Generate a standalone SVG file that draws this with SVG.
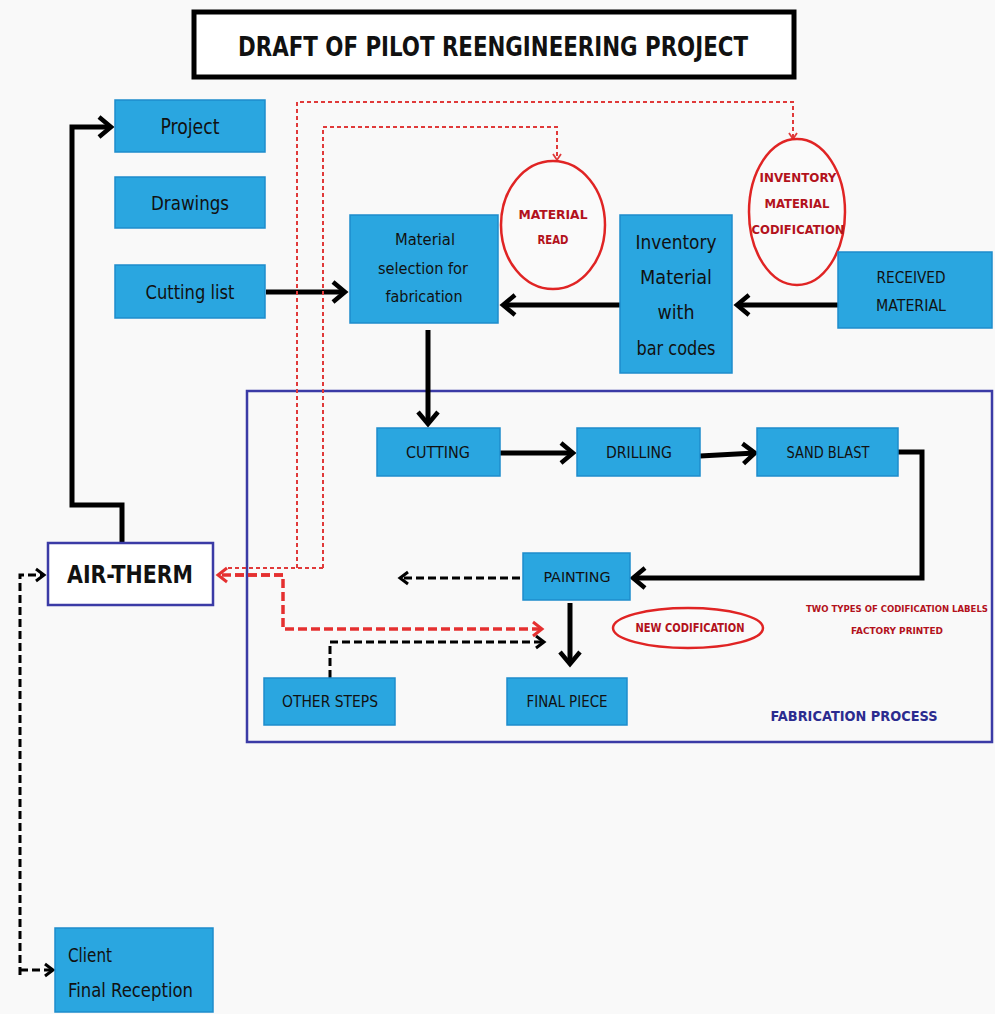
<svg xmlns="http://www.w3.org/2000/svg" width="995" height="1014" viewBox="0 0 995 1014">
<style>
.bx{fill:#2aa6e0;stroke:#1e8ccc;stroke-width:1.5}
.t{font-family:"DejaVu Sans","Liberation Sans",sans-serif;font-stretch:condensed;fill:#111;text-anchor:middle}
.r{font-family:"DejaVu Sans","Liberation Sans",sans-serif;font-stretch:condensed;fill:#b3121c;font-weight:bold;text-anchor:middle}
.ell{fill:#fafafa;stroke:#e02424;stroke-width:2.5}
.solid{fill:none;stroke:#000;stroke-width:5}
.dash{fill:none;stroke:#000;stroke-width:3;stroke-dasharray:8 4}
.rdot{fill:none;stroke:#e03a3a;stroke-width:2;stroke-dasharray:4 3}
.rdash{fill:none;stroke:#e53030;stroke-width:3.5;stroke-dasharray:9 4}
</style>
<defs>
<marker id="ab" markerUnits="userSpaceOnUse" markerWidth="24" markerHeight="24" refX="16" refY="12" orient="auto" overflow="visible"><path d="M4,2 L16,12 L4,22" fill="none" stroke="#000" stroke-width="4.5"/></marker>
<marker id="as" markerUnits="userSpaceOnUse" markerWidth="16" markerHeight="16" refX="12" refY="8" orient="auto" overflow="visible"><path d="M4,2 L12,8 L4,14" fill="none" stroke="#000" stroke-width="3"/></marker>
<marker id="ar" markerUnits="userSpaceOnUse" markerWidth="16" markerHeight="16" refX="12" refY="8" orient="auto" overflow="visible"><path d="M3,1 L12,8 L3,15" fill="none" stroke="#e53030" stroke-width="3"/></marker>
<marker id="ars" markerUnits="userSpaceOnUse" markerWidth="12" markerHeight="12" refX="9" refY="6" orient="auto" overflow="visible"><path d="M3,2 L9,6 L3,10" fill="none" stroke="#e03a3a" stroke-width="1.8"/></marker>
</defs>
<rect width="995" height="1014" fill="#f9f9f9"/>

<g id="title">
<rect x="194" y="12" width="600" height="65" fill="#fff" stroke="#000" stroke-width="5"/>
<text class="t" x="493" y="56" font-size="27" font-weight="bold" textLength="510" lengthAdjust="spacingAndGlyphs">DRAFT OF PILOT REENGINEERING PROJECT</text>
</g>

<g id="fabrication-process">
<rect x="247" y="391" width="745" height="351" fill="none" stroke="#3b3ba6" stroke-width="2.5"/>
<text x="854" y="721" font-family="DejaVu Sans,Liberation Sans,sans-serif" font-size="14" font-weight="bold" fill="#2b2b8f" text-anchor="middle" textLength="167" lengthAdjust="spacingAndGlyphs">FABRICATION PROCESS</text>
</g>

<g id="connectors">
<path class="solid" d="M266,292 H345" marker-end="url(#ab)"/>
<path class="solid" d="M620,305 H503" marker-end="url(#ab)"/>
<path class="solid" d="M838,305 H737" marker-end="url(#ab)"/>
<path class="solid" d="M428,330 V424" marker-end="url(#ab)"/>
<path class="solid" d="M500,453 H573" marker-end="url(#ab)"/>
<path class="solid" d="M700,456 L755,453" marker-end="url(#ab)"/>
<path class="solid" d="M898,452 H922 V578 H633" marker-end="url(#ab)"/>
<path class="solid" d="M570,603 V664" marker-end="url(#ab)"/>
<path class="solid" d="M122,542 V505 H72 V127 H111" marker-end="url(#ab)"/>
<path class="dash" d="M520,578 H400" marker-end="url(#as)"/>
<path class="dash" d="M330,678 V642 H544" marker-end="url(#as)"/>
<path class="dash" d="M20,975 V575 H44" marker-end="url(#as)"/>
<path class="dash" d="M20,970 H53" marker-end="url(#as)"/>
<path class="rdot" d="M323,568 V127 H557 V160" marker-end="url(#ars)"/>
<path class="rdot" d="M297,568 V102 H793 V139" marker-end="url(#ars)"/>
<path class="rdot" d="M323,568 H226"/>
<path class="rdash" d="M283,575 H218" marker-end="url(#ar)"/>
<path class="rdash" d="M235,575 H283 V629 H542" marker-end="url(#ar)"/>
</g>

<g id="project"><rect class="bx" x="115" y="100" width="150" height="52"/><text class="t" x="190" y="134" font-size="21" textLength="59" lengthAdjust="spacingAndGlyphs">Project</text></g>
<g id="drawings"><rect class="bx" x="115" y="177" width="150" height="51"/><text class="t" x="190" y="210" font-size="20" textLength="78" lengthAdjust="spacingAndGlyphs">Drawings</text></g>
<g id="cutting-list"><rect class="bx" x="115" y="265" width="150" height="53"/><text class="t" x="190" y="299" font-size="20" textLength="89" lengthAdjust="spacingAndGlyphs">Cutting list</text></g>

<g id="material-selection"><rect class="bx" x="350" y="215" width="148" height="108"/>
<text class="t" x="425" y="245" font-size="15" textLength="60" lengthAdjust="spacingAndGlyphs">Material</text>
<text class="t" x="423" y="274" font-size="15" textLength="90" lengthAdjust="spacingAndGlyphs">selection for</text>
<text class="t" x="424" y="302" font-size="15" textLength="77" lengthAdjust="spacingAndGlyphs">fabrication</text></g>

<g id="material-read"><ellipse class="ell" cx="553" cy="225" rx="52" ry="64"/>
<text class="r" x="553" y="219" font-size="12" textLength="69" lengthAdjust="spacingAndGlyphs">MATERIAL</text>
<text class="r" x="553" y="244" font-size="12" textLength="31" lengthAdjust="spacingAndGlyphs">READ</text></g>

<g id="inventory-material"><rect class="bx" x="620" y="215" width="112" height="158"/>
<text class="t" x="676" y="249" font-size="20" textLength="81" lengthAdjust="spacingAndGlyphs">Inventory</text>
<text class="t" x="676" y="284" font-size="20" textLength="72" lengthAdjust="spacingAndGlyphs">Material</text>
<text class="t" x="676" y="319" font-size="20" textLength="37" lengthAdjust="spacingAndGlyphs">with</text>
<text class="t" x="676" y="355" font-size="20" textLength="79" lengthAdjust="spacingAndGlyphs">bar codes</text></g>

<g id="inventory-codification"><ellipse class="ell" cx="797" cy="212" rx="48" ry="73"/>
<text class="r" x="798" y="182" font-size="12" textLength="77" lengthAdjust="spacingAndGlyphs">INVENTORY</text>
<text class="r" x="797" y="208" font-size="12" textLength="65" lengthAdjust="spacingAndGlyphs">MATERIAL</text>
<text class="r" x="798" y="234" font-size="12" textLength="93" lengthAdjust="spacingAndGlyphs">CODIFICATION</text></g>

<g id="received-material"><rect class="bx" x="838" y="252" width="154" height="76"/>
<text class="t" x="911" y="283" font-size="16" textLength="69" lengthAdjust="spacingAndGlyphs">RECEIVED</text>
<text class="t" x="911" y="311" font-size="16" textLength="70" lengthAdjust="spacingAndGlyphs">MATERIAL</text></g>

<g id="cutting"><rect class="bx" x="377" y="428" width="123" height="48"/><text class="t" x="438" y="458" font-size="15" textLength="64" lengthAdjust="spacingAndGlyphs">CUTTING</text></g>
<g id="drilling"><rect class="bx" x="577" y="428" width="123" height="48"/><text class="t" x="639" y="458" font-size="15" textLength="66" lengthAdjust="spacingAndGlyphs">DRILLING</text></g>
<g id="sand-blast"><rect class="bx" x="757" y="428" width="141" height="48"/><text class="t" x="828" y="458" font-size="15" textLength="83" lengthAdjust="spacingAndGlyphs">SAND BLAST</text></g>
<g id="painting"><rect class="bx" x="523" y="553" width="107" height="47"/><text class="t" x="577" y="582" font-size="14" textLength="67" lengthAdjust="spacingAndGlyphs">PAINTING</text></g>

<g id="new-codification"><ellipse class="ell" cx="688" cy="628" rx="75" ry="20"/>
<text class="r" x="690" y="632" font-size="12" textLength="109" lengthAdjust="spacingAndGlyphs">NEW CODIFICATION</text></g>

<g id="labels-note">
<text class="r" x="897" y="612" font-size="9" textLength="182" lengthAdjust="spacingAndGlyphs">TWO TYPES OF CODIFICATION LABELS</text>
<text class="r" x="897" y="634" font-size="9" textLength="92" lengthAdjust="spacingAndGlyphs">FACTORY PRINTED</text>
</g>

<g id="other-steps"><rect class="bx" x="264" y="678" width="131" height="47"/><text class="t" x="330" y="707" font-size="15" textLength="96" lengthAdjust="spacingAndGlyphs">OTHER STEPS</text></g>
<g id="final-piece"><rect class="bx" x="507" y="678" width="120" height="47"/><text class="t" x="567" y="707" font-size="15" textLength="81" lengthAdjust="spacingAndGlyphs">FINAL PIECE</text></g>

<g id="air-therm"><rect x="48" y="543" width="165" height="62" fill="#fff" stroke="#3b3ba6" stroke-width="2.5"/>
<text class="t" x="130" y="583" font-size="25" font-weight="bold" textLength="126" lengthAdjust="spacingAndGlyphs">AIR-THERM</text></g>

<g id="client"><rect class="bx" x="55" y="928" width="158" height="84"/>
<text class="t" x="68" y="962" font-size="19" style="text-anchor:start" textLength="44" lengthAdjust="spacingAndGlyphs">Client</text>
<text class="t" x="68" y="997" font-size="19" style="text-anchor:start" textLength="125" lengthAdjust="spacingAndGlyphs">Final Reception</text></g>
</svg>
